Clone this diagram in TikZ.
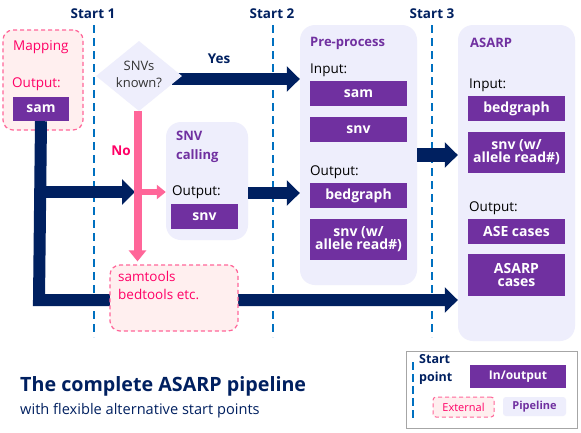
\documentclass[tikz,border=0pt]{standalone}
\usepackage{fontspec}
\setmainfont{Open Sans}
\usetikzlibrary{arrows.meta,shapes.geometric}
\definecolor{navy}{HTML}{002060}
\definecolor{dblue}{HTML}{0070C0}
\definecolor{purp}{HTML}{7030A0}
\definecolor{pinkline}{HTML}{FF6699}
\definecolor{pinktext}{HTML}{FF0066}
\definecolor{pinkfill}{HTML}{FFEFEF}
\definecolor{lav}{HTML}{EEEEFC}
\definecolor{legendgray}{HTML}{A6A6A6}
\tikzset{
  io/.style={fill=purp, text=white, inner sep=0pt, align=center,
    font=\bfseries\fontsize{14}{15}\selectfont},
  container/.style={fill=lav, rounded corners=15pt, inner sep=0pt},
  external/.style={fill=pinkfill, draw=pinkline, dash pattern=on 4pt off 3pt,
    line width=1.2pt, rounded corners=10pt, inner sep=0pt},
  startline/.style={draw=dblue, line width=2.6pt, dash pattern=on 8pt off 5pt},
  startlabel/.style={text=navy, font=\bfseries\fontsize{13.5}{14}\selectfont, inner sep=0pt},
  bigarrow/.style={draw=navy, line width=12pt, line join=miter,
    -{Triangle[length=13pt,width=25pt]}},
  pinkarrow/.style={draw=pinkline, line width=8pt,
    -{Triangle[length=11pt,width=17pt]}},
  lbl/.style={inner sep=0pt, anchor=west, font=\fontsize{13.5}{14}\selectfont},
  head/.style={inner sep=0pt, anchor=west, text=purp, font=\bfseries\fontsize{13}{19}\selectfont, align=left},
}
\begin{document}
\begin{tikzpicture}[x=1pt,y=-1pt]
\fill[white] (0,0) rectangle (581,432);
\useasboundingbox (0,0) rectangle (581,432);

% helper coordinates
\coordinate (px) at (137.5,0);
\coordinate (y192) at (0,192);
\coordinate (y193) at (0,193);
\coordinate (y155) at (0,155);

% start points
\coordinate (s1t) at (94,25);  \coordinate (s1b) at (94,337);
\coordinate (s2t) at (273,25); \coordinate (s2b) at (273,337);
\coordinate (s3t) at (432,25); \coordinate (s3b) at (432,337);
\draw[startline] (s1t) -- (s1b);
\draw[startline] (s2t) -- (s2b);
\draw[startline] (s3t) -- (s3b);
\node[startlabel] (st1) at (93,14) {Start 1};
\node[startlabel] (st2) at (272,14) {Start 2};
\node[startlabel] (st3) at (432,14) {Start 3};

% containers
\node[external, minimum width=80pt, minimum height=100pt] (map) at (43,80) {};
\node[container, minimum width=117pt, minimum height=260pt] (pre) at (358.5,155) {};
\node[container, minimum width=117pt, minimum height=316pt] (asarp) at (516.5,183) {};
\node[container, minimum width=82pt, minimum height=118pt] (call) at (207,181) {};

% mapping
\node[lbl, text=pinktext] (maplbl) at (13,47) {Mapping};
\node[lbl, text=pinktext] (mapout) at (12,84) {Output:};
\node[io, minimum width=56pt, minimum height=24pt] (sam0) at (41,109) {sam};

% navy arrows from sam
\coordinate (corner) at (39,300);
\coordinate (branch) at (39,192);
\coordinate (nojoin) at (135,192);
\draw[bigarrow] (sam0.south) -- (corner) -- (corner -| asarp.west);
\draw[bigarrow] (branch) -- (nojoin);

% diamond + yes arrow
\coordinate (yesstart) at (172,79);
\draw[bigarrow] (yesstart) -- (yesstart -| pre.west);
\node[diamond, fill=lav, minimum width=86pt, minimum height=70pt, inner sep=0pt] (diam) at (139,76) {};
\node[inner sep=0pt, align=center, text=black!80, font=\fontsize{13}{17}\selectfont] (diamtxt) at (139,74) {SNVs\\known?};
\node[inner sep=0pt, text=navy, font=\bfseries\fontsize{13.5}{14}\selectfont] (yes) at (219,59) {Yes};

% samtools box
\node[external, minimum width=128pt, minimum height=66pt] (tools) at (174,298) {};
\node[inner sep=0pt, anchor=north west, align=left, text=pinktext, font=\fontsize{13.5}{18}\selectfont] (toolstxt) at (118,271) {samtools\\bedtools etc.};

% pink arrows
\draw[pinkarrow, shorten >=3pt] (diam.south -| px) -- (tools.north -| px);
\draw[draw=pinkline, line width=6pt, -{Triangle[length=9pt,width=14pt]}] (y192 -| px) -- (call.west |- y192);
\node[inner sep=0pt, text=pinktext, font=\bfseries\fontsize{13.5}{14}\selectfont] (no) at (121,151) {No};

% SNV calling
\node[head] (calltitle) at (176,147) {SNV\\calling};
\node[lbl, text=black] (callout) at (172,192) {Output:};
\node[io, minimum width=67pt, minimum height=25pt] (snv0) at (204.5,216.5) {snv};
\draw[bigarrow] (call.east |- y193) -- (pre.west |- y193);

% pre-process
\node[head] (pretitle) at (310,43) {Pre-process};
\node[lbl, text=black] (prein) at (310,70) {Input:};
\node[io, minimum width=97pt, minimum height=25pt] (sam1) at (358.5,93.5) {sam};
\node[io, minimum width=97pt, minimum height=25pt] (snv1) at (358.5,129.5) {snv};
\node[lbl, text=black] (preout) at (310,172) {Output:};
\node[io, minimum width=97pt, minimum height=25pt] (bg1) at (358.5,195.5) {bedgraph};
\node[io, minimum width=97pt, minimum height=41pt] (snvw1) at (358.5,239.5) {snv (w/\\[-2pt]allele read\#)};

% arrow pre -> asarp
\draw[draw=navy, line width=14pt, -{Triangle[length=13pt,width=25pt]}] (pre.east |- y155) -- (asarp.west |- y155);

% ASARP
\node[head] (astitle) at (470,43) {ASARP};
\node[lbl, text=black] (asin) at (469,85) {Input:};
\node[io, minimum width=97pt, minimum height=25pt] (bg2) at (516.5,108.5) {bedgraph};
\node[io, minimum width=97pt, minimum height=41pt] (snvw2) at (516.5,152.5) {snv (w/\\[-2pt]allele read\#)};
\node[lbl, text=black] (asout) at (469,208) {Output:};
\node[io, minimum width=97pt, minimum height=25pt] (ase) at (516.5,231.5) {ASE cases};
\node[io, minimum width=97pt, minimum height=42pt] (asc) at (516.5,275) {ASARP\\[-2pt]cases};

% title
\node[inner sep=0pt, anchor=west, text=navy, font=\bfseries\fontsize{19.7}{20}\selectfont] (title) at (20,386) {The complete ASARP pipeline};
\node[inner sep=0pt, anchor=west, text=navy, font=\fontsize{14.6}{15}\selectfont] (subtitle) at (20,411) {with flexible alternative start points};

% legend
\node[draw=legendgray, line width=1pt, minimum width=171pt, minimum height=77pt, inner sep=0pt] (legend) at (491.5,389.5) {};
\coordinate (lgt) at (413,362); \coordinate (lgb) at (413,421);
\draw[draw=dblue, line width=2.4pt, dash pattern=on 8pt off 4pt] (lgt) -- (lgb);
\node[inner sep=0pt, anchor=west, align=left, text=navy, font=\bfseries\fontsize{12.5}{18}\selectfont] (lgstart) at (419,369) {Start\\point};
\node[io, minimum width=96pt, minimum height=23pt, font=\bfseries\fontsize{12}{13}\selectfont] (lgio) at (518,376.5) {In/output};
\node[external, rounded corners=3pt, line width=1pt, minimum width=61pt, minimum height=20pt, text=pinktext, font=\fontsize{11}{12}\selectfont] (lgext) at (463.5,407) {External};
\node[fill=lav, rounded corners=3pt, minimum width=63pt, minimum height=19pt, inner sep=0pt, text=purp, font=\bfseries\fontsize{11}{12}\selectfont] (lgpipe) at (534.5,406.5) {Pipeline};
\end{tikzpicture}
\end{document}
